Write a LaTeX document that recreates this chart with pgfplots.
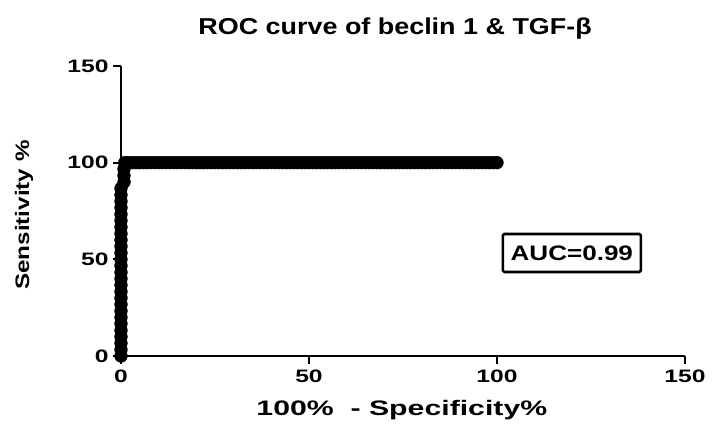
\documentclass[border=0pt]{standalone}
\usepackage{fontspec}
\setmainfont{Liberation Sans}
% the reference text is set wide, so each element gets its own stretch
\newfontfamily\titlefont[FakeStretch=1.17]{Liberation Sans}
\newfontfamily\tickfont[FakeStretch=1.37]{Liberation Sans}
\newfontfamily\xlabfont[FakeStretch=1.44]{Liberation Sans}
\newfontfamily\ylabfont[FakeStretch=1.24]{Liberation Sans}
\newfontfamily\aucfont[FakeStretch=1.24]{Liberation Sans}
\usepackage{pgfplots}
\pgfplotsset{compat=1.18}

\begin{document}
\begin{tikzpicture}
  % fixed canvas, same size as the reference
  \path[use as bounding box] (0,0) rectangle (712bp,428bp);
  \begin{axis}[
      at={(121bp,72bp)}, anchor=south west,
      scale only axis,
      width=564bp, height=290bp,
      xmin=0, xmax=150, ymin=0, ymax=150,
      axis lines=left,
      axis line style={-, line width=2.2bp, black},
      xtick={0,50,100,150}, ytick={0,50,100,150},
      tick align=outside,
      major tick length=8bp,
      tick style={line width=2bp, black},
      /pgf/number format/assume math mode=true,
      ticklabel style={font=\tickfont\bfseries\fontsize{18bp}{21bp}\selectfont},
      xticklabel style={yshift=-2bp},
      yticklabel style={xshift=-1bp},
      clip=false,
      every axis title shift=0pt,
      title={ROC curve of beclin 1 \& TGF-β},
      title style={at={(axis description cs:0.486,1.128)}, anchor=center,
        font=\titlefont\bfseries\fontsize{23bp}{27bp}\selectfont},
      xlabel={100\%\ \ - Specificity\%},
      xlabel style={at={(axis description cs:0.498,-0.186)}, anchor=center,
        font=\xlabfont\bfseries\fontsize{21bp}{25bp}\selectfont},
      ylabel={Sensitivity \%},
      ylabel style={at={(axis description cs:-0.172,0.486)}, anchor=center,
        font=\ylabfont\bfseries\fontsize{19.5bp}{23bp}\selectfont},
    ]
    % ROC points
    \addplot[only marks, mark=*, mark size=6.4bp, black] coordinates {
      (0,0) (0,3.3) (0,6.7) (0,10) (0,13.3) (0,16.7) (0,20) (0,23.3)
      (0,26.7) (0,30) (0,33.3) (0,36.7) (0,40) (0,43.3) (0,46.7) (0,50)
      (0,53.3) (0,56.7) (0,60) (0,63.3) (0,66.7) (0,70) (0,73.3) (0,76.7)
      (0,80) (0,83.3) (0,86.7) (0.8,90) (0.8,93.3) (0.8,96.7) (1,100)
      (2,100) (3,100) (4,100) (5,100) (6,100) (7,100) (8,100) (9,100) (10,100)
      (11,100) (12,100) (13,100) (14,100) (15,100) (16,100) (17,100) (18,100) (19,100) (20,100)
      (21,100) (22,100) (23,100) (24,100) (25,100) (26,100) (27,100) (28,100) (29,100) (30,100)
      (31,100) (32,100) (33,100) (34,100) (35,100) (36,100) (37,100) (38,100) (39,100) (40,100)
      (41,100) (42,100) (43,100) (44,100) (45,100) (46,100) (47,100) (48,100) (49,100) (50,100)
      (51,100) (52,100) (53,100) (54,100) (55,100) (56,100) (57,100) (58,100) (59,100) (60,100)
      (61,100) (62,100) (63,100) (64,100) (65,100) (66,100) (67,100) (68,100) (69,100) (70,100)
      (71,100) (72,100) (73,100) (74,100) (75,100) (76,100) (77,100) (78,100) (79,100) (80,100)
      (81,100) (82,100) (83,100) (84,100) (85,100) (86,100) (87,100) (88,100) (89,100) (90,100)
      (91,100) (92,100) (93,100) (94,100) (95,100) (96,100) (97,100) (98,100) (99,100) (100,100)
    };
    \node[draw, line width=2.6bp, rounded corners=1.5bp, minimum width=138bp,
      minimum height=38bp, inner sep=0pt,
      font=\aucfont\bfseries\fontsize{21bp}{25bp}\selectfont]
      at (axis cs:119.9,53.3) {AUC=0.99};
  \end{axis}
\end{tikzpicture}
\end{document}
